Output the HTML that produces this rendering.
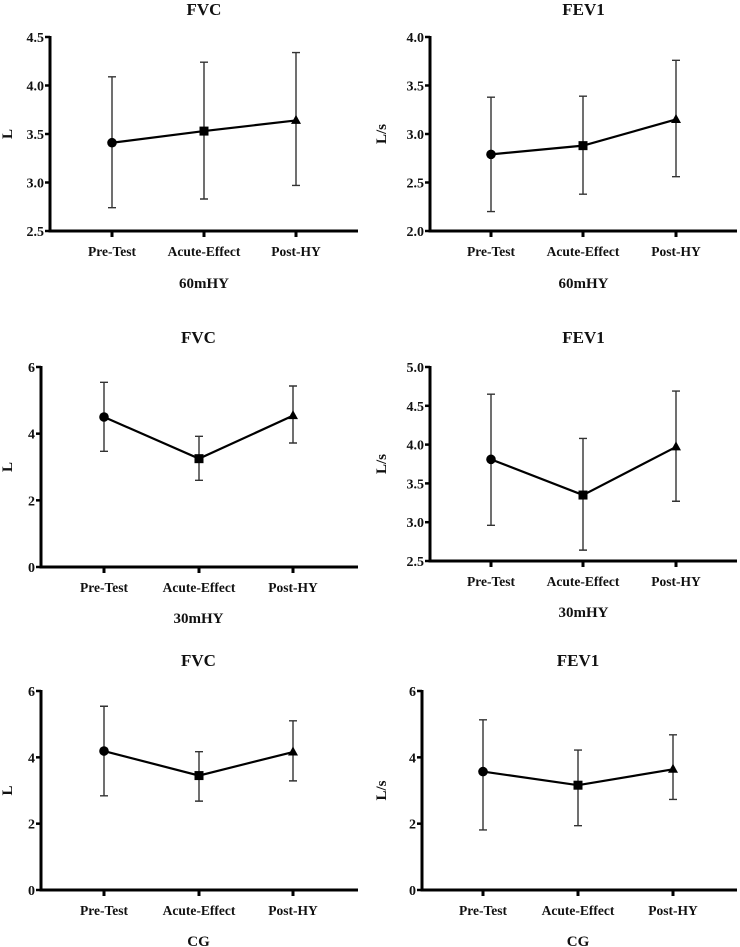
<!DOCTYPE html>
<html><head><meta charset="utf-8">
<style>
html,body{margin:0;padding:0;background:#fff;}
svg{display:block;}
text{font-family:"Liberation Serif",serif;font-weight:bold;fill:#111;}
</style></head>
<body>
<svg id="chart" width="740" height="947" viewBox="0 0 740 947"></svg>
<script>
const categories = ["Pre-Test","Acute-Effect","Post-HY"];
const fvc60Mean = [3.41, 3.53, 3.64];
const fvc60Lo = [2.74, 2.83, 2.97];
const fvc60Hi = [4.09, 4.24, 4.34];
const fev60Mean = [2.79, 2.88, 3.15];
const fev60Lo = [2.20, 2.38, 2.56];
const fev60Hi = [3.38, 3.39, 3.76];
const fvc30Mean = [4.50, 3.25, 4.54];
const fvc30Lo = [3.47, 2.60, 3.72];
const fvc30Hi = [5.54, 3.92, 5.43];
const fev30Mean = [3.81, 3.35, 3.97];
const fev30Lo = [2.96, 2.64, 3.27];
const fev30Hi = [4.65, 4.08, 4.69];
const fvcCgMean = [4.19, 3.45, 4.16];
const fvcCgLo = [2.84, 2.68, 3.29];
const fvcCgHi = [5.54, 4.17, 5.10];
const fevCgMean = [3.57, 3.16, 3.64];
const fevCgLo = [1.81, 1.94, 2.73];
const fevCgHi = [5.13, 4.22, 4.68];
const ticksHalf60 = ["2.5","3.0","3.5","4.0","4.5"];
const ticksFev60 = ["2.0","2.5","3.0","3.5","4.0"];
const ticksFev30 = ["2.5","3.0","3.5","4.0","4.5","5.0"];
const ticksSix = ["0","2","4","6"];

const panels = [
 {id:"fvc-60mhy",title:"FVC",group:"60mHY",ylab:"L",ax:50,top:37,bot:231,end:358,cx:[112,204,296],titleY:15,labY:256,grpY:288,ylabX:12,ticks:ticksHalf60,mean:fvc60Mean,lo:fvc60Lo,hi:fvc60Hi},
 {id:"fev1-60mhy",title:"FEV1",group:"60mHY",ylab:"L/s",ax:430,top:37,bot:231,end:737,cx:[491,583,676],titleY:15,labY:256,grpY:288,ylabX:386,ticks:ticksFev60,mean:fev60Mean,lo:fev60Lo,hi:fev60Hi},
 {id:"fvc-30mhy",title:"FVC",group:"30mHY",ylab:"L",ax:41,top:367,bot:567,end:358,cx:[104,199,293],titleY:343,labY:592,grpY:623,ylabX:12,ticks:ticksSix,mean:fvc30Mean,lo:fvc30Lo,hi:fvc30Hi},
 {id:"fev1-30mhy",title:"FEV1",group:"30mHY",ylab:"L/s",ax:430,top:367,bot:561,end:737,cx:[491,583,676],titleY:343,labY:586,grpY:617,ylabX:386,ticks:ticksFev30,mean:fev30Mean,lo:fev30Lo,hi:fev30Hi},
 {id:"fvc-cg",title:"FVC",group:"CG",ylab:"L",ax:41,top:691,bot:890,end:358,cx:[104,199,293],titleY:666,labY:915,grpY:946,ylabX:12,ticks:ticksSix,mean:fvcCgMean,lo:fvcCgLo,hi:fvcCgHi},
 {id:"fev1-cg",title:"FEV1",group:"CG",ylab:"L/s",ax:422,top:691,bot:890,end:737,cx:[483,578,673],titleY:666,labY:915,grpY:946,ylabX:386,ticks:ticksSix,mean:fevCgMean,lo:fevCgLo,hi:fevCgHi}
];

const NS="http://www.w3.org/2000/svg";
const svg=document.getElementById("chart");
function mk(tag,attrs,parent){const e=document.createElementNS(NS,tag);for(const k in attrs)e.setAttribute(k,attrs[k]);(parent||svg).appendChild(e);return e;}

panels.forEach(p=>{
  const g=mk("g",{});
  
  
  const tmin=parseFloat(p.ticks[0]), tmax=parseFloat(p.ticks[p.ticks.length-1]);
  const y=v=>p.bot-(v-tmin)/(tmax-tmin)*(p.bot-p.top);
  const xc=(p.ax+p.end)/2;
  const t=mk("text",{x:(p.cx[0]+p.cx[2])/2,y:p.titleY,"text-anchor":"middle","font-size":"17"},g);t.textContent=p.title;
  
  
  // y ticks
  p.ticks.forEach(tk=>{
    const v=parseFloat(tk), yy=y(v);
    const l=mk("line",{x1:p.ax-5,x2:p.ax,y1:yy,y2:yy,stroke:"#000","stroke-width":2.5},g);
    
    
    const tx=mk("text",{x:p.ax-6,y:yy+5,"text-anchor":"end","font-size":"14"},g);tx.textContent=tk;
    
    
  });
  // axes
  const ya=mk("line",{x1:p.ax,x2:p.ax,y1:p.top-1,y2:p.bot+1.5,stroke:"#000","stroke-width":3},g);
  
  
  const xa=mk("line",{x1:p.ax-1.5,x2:p.end,y1:p.bot,y2:p.bot,stroke:"#000","stroke-width":3},g);
  
  
  const yl=mk("text",{x:0,y:0,"text-anchor":"middle","font-size":"15",transform:`translate(${p.ylabX},${(p.top+p.bot)/2}) rotate(-90)`},g);yl.textContent=p.ylab;
  
  
  categories.forEach((c,i)=>{
    const l=mk("line",{x1:p.cx[i],x2:p.cx[i],y1:p.bot,y2:p.bot+6,stroke:"#000","stroke-width":3},g);
    
    
    const tx=mk("text",{x:p.cx[i],y:p.labY,"text-anchor":"middle","font-size":"13.5"},g);tx.textContent=c;
    
    
  });
  const gl=mk("text",{x:(p.cx[0]+p.cx[2])/2,y:p.grpY,"text-anchor":"middle","font-size":"15"},g);gl.textContent=p.group;
  
  
  // error bars
  categories.forEach((c,i)=>{
    const x=p.cx[i];
    const eb=mk("path",{d:`M${x},${y(p.lo[i])}V${y(p.hi[i])}M${x-4},${y(p.lo[i])}H${x+4}M${x-4},${y(p.hi[i])}H${x+4}`,stroke:"#333",fill:"none","stroke-width":1.4},g);
    
    
  });
  // line
  const pts=categories.map((c,i)=>`${p.cx[i]},${y(p.mean[i])}`).join(" ");
  const pl=mk("polyline",{points:pts,fill:"none",stroke:"#000","stroke-width":2.2},g);
  
  
  // markers
  const x0=p.cx[0],y0=y(p.mean[0]);
  const m0=mk("circle",{cx:x0,cy:y0,r:4.8,fill:"#000"},g);
  
  
  const x1=p.cx[1],y1=y(p.mean[1]);
  const m1=mk("rect",{x:x1-4.5,y:y1-4.5,width:9,height:9,fill:"#000"},g);
  
  
  const x2=p.cx[2],y2=y(p.mean[2]);
  const m2=mk("polygon",{points:`${x2},${y2-5.5} ${x2-5},${y2+3.5} ${x2+5},${y2+3.5}`,fill:"#000"},g);
  
  
});
</script>
</body></html>
